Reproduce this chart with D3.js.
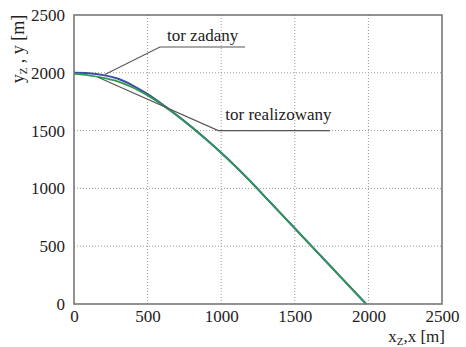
<!DOCTYPE html>
<html>
<head>
<meta charset="utf-8">
<script src="https://cdn.jsdelivr.net/npm/d3@7"></script>
<style>
  html, body { margin: 0; padding: 0; background: #fff; }
</style>
</head>
<body>
<svg id="chart" width="466" height="347"></svg>
<script>
// Trajectory: commanded path (tor zadany) and realized path (tor realizowany)
const zadanyX = [0, 100, 200, 300, 400, 500, 600, 700, 800, 900, 1000, 1100, 1200, 1300, 1400, 1500, 1600, 1700, 1800, 1900, 1985];
const zadanyY = [2000, 1997, 1980, 1948, 1890, 1815, 1727, 1632, 1530, 1422, 1308, 1188, 1060, 925, 790, 655, 520, 385, 250, 115, 0];
const realX = [0, 100, 200, 300, 400, 500, 600, 700, 800, 900, 1000, 1100, 1200, 1300, 1400, 1500, 1600, 1700, 1800, 1900, 1985];
const realY = [1990, 1978, 1956, 1924, 1872, 1803, 1722, 1630, 1528, 1420, 1306, 1186, 1058, 923, 788, 653, 518, 383, 248, 113, 0];

const xTicks = [0, 500, 1000, 1500, 2000, 2500];
const yTicks = [0, 500, 1000, 1500, 2000, 2500];

// Callout annotations: [anchor on curve, elbow, end of underline]
const labelZadany = { text: "tor zadany", pts: [[210, 1985], [584, 2223], [1162, 2223]] };
const labelReal = { text: "tor realizowany", pts: [[163, 1962], [980, 1500], [1740, 1500]] };

const SERIF = "'Liberation Serif', 'Times New Roman', serif";

const svg = d3.select("#chart");
const L = 74, R = 442, T = 15, B = 304;
const x = d3.scaleLinear().domain([0, 2500]).range([L, R]);
const y = d3.scaleLinear().domain([0, 2500]).range([B, T]);

// dotted grid
const grid = svg.append("g");
grid.selectAll("line.gx").data(xTicks.slice(1, -1)).join("line")
  .attr("x1", d => x(d)).attr("x2", d => x(d)).attr("y1", T).attr("y2", B)
  .attr("stroke", "#999").attr("stroke-width", 1).attr("stroke-dasharray", "1,2");
grid.selectAll("line.gy").data(yTicks.slice(1, -1)).join("line")
  .attr("y1", d => y(d)).attr("y2", d => y(d)).attr("x1", L).attr("x2", R)
  .attr("stroke", "#999").attr("stroke-width", 1).attr("stroke-dasharray", "1,2");

// tick labels via axes
const xAxis = svg.append("g").attr("transform", `translate(0,${B})`)
  .call(d3.axisBottom(x).tickValues(xTicks).tickSize(0).tickPadding(6).tickFormat(d3.format("d")));
const yAxis = svg.append("g").attr("transform", `translate(${L},0)`)
  .call(d3.axisLeft(y).tickValues(yTicks).tickSize(0).tickPadding(9).tickFormat(d3.format("d")));
[xAxis, yAxis].forEach(a => {
  a.select(".domain").remove();
  a.attr("font-family", null).attr("font-size", null);
  a.selectAll("text").style("font-size", "17px").style("font-family", SERIF).style("fill", "#222");
});

// curves
const line = d3.line().x(d => x(d[0])).y(d => y(d[1])).curve(d3.curveCatmullRom);
svg.append("path").datum(d3.zip(zadanyX, zadanyY)).attr("d", line)
  .attr("fill", "none").attr("stroke", "#3b4fa8").attr("stroke-width", 2);
svg.append("path").datum(d3.zip(realX, realY)).attr("d", line)
  .attr("fill", "none").attr("stroke", "#2e9a4e").attr("stroke-width", 1.7);

// annotations
const plain = d3.line().x(d => x(d[0])).y(d => y(d[1]));
[labelZadany, labelReal].forEach(a => {
  svg.append("path").attr("d", plain(a.pts)).attr("fill", "none")
    .attr("stroke", "#555").attr("stroke-width", 1.1);
});
svg.append("text").attr("x", x(labelZadany.pts[1][0]) + 7).attr("y", y(labelZadany.pts[1][1]) - 6)
  .style("font-family", SERIF).style("font-size", "17px").style("fill", "#222").text(labelZadany.text);
svg.append("text").attr("x", x(labelReal.pts[1][0]) + 7).attr("y", y(labelReal.pts[1][1]) - 11)
  .style("font-family", SERIF).style("font-size", "17px").style("fill", "#222").text(labelReal.text);

// frame
svg.append("rect").attr("x", L).attr("y", T).attr("width", R - L).attr("height", B - T)
  .attr("fill", "none").attr("stroke", "#777").attr("stroke-width", 1.6);

// axis titles
const xt = svg.append("text").attr("x", R + 3).attr("y", 342).attr("text-anchor", "end")
  .style("font-family", SERIF).style("font-size", "17px").style("fill", "#222");
xt.append("tspan").text("x");
xt.append("tspan").style("font-size", "11px").attr("dy", 3).text("Z");
xt.append("tspan").attr("dy", -3).text(",x [m]");

const yt = svg.append("text").attr("transform", "translate(24,49) rotate(-90)")
  .attr("text-anchor", "middle")
  .style("font-family", SERIF).style("font-size", "18px").style("fill", "#222");
yt.append("tspan").text("y");
yt.append("tspan").style("font-size", "11px").attr("dy", 3).text("Z");
yt.append("tspan").attr("dy", -3).text(" , y [m]");
</script>
</body>
</html>
